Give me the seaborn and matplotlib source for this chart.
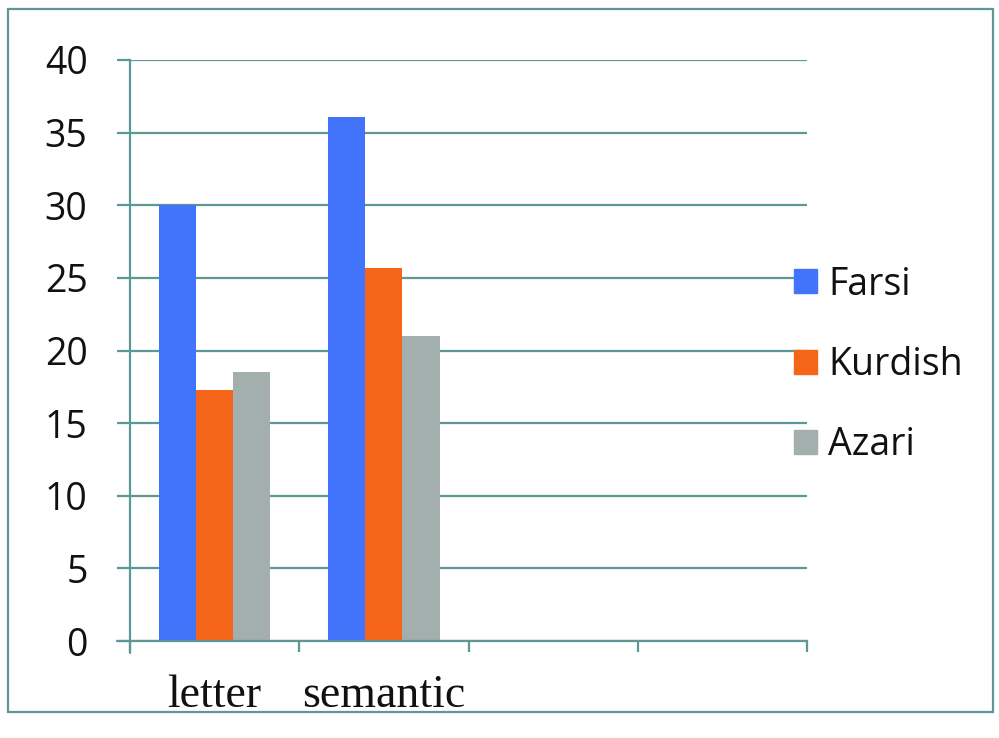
import matplotlib
matplotlib.use("Agg")
import matplotlib.pyplot as plt
import matplotlib.patches as mpatches
import pandas as pd
import seaborn as sns

# values
categories = ["letter", "semantic"]
languages = ["Farsi", "Kurdish", "Azari"]
farsi = [30.0, 36.1]
kurdish = [17.3, 25.7]
azari = [18.5, 21.0]
colors = ["#4174FB", "#F4651A", "#A2AFAD"]
grid_col = "#5E9896"

df = pd.DataFrame({
    "category": categories * 3,
    "language": [l for l in languages for _ in categories],
    "value": farsi + kurdish + azari,
})

sns.set_theme(style="white")
fig = plt.figure(figsize=(9.99, 7.38), dpi=100)
ax = fig.add_axes([0.130, 0.1314, 0.678, 0.7873])

sns.barplot(data=df, x="category", y="value", hue="language", order=categories,
            hue_order=languages, palette=colors, width=0.66, saturation=1,
            errorbar=None, linewidth=0, ax=ax)

ax.set_xlim(-0.5, 3.5)
ax.set_ylim(0, 40)
ax.set_yticks(range(0, 41, 5))
ax.yaxis.grid(True, color=grid_col, linewidth=1.6)
ax.set_axisbelow(True)
for s in ["top", "right"]:
    ax.spines[s].set_visible(False)
for s in ["left", "bottom"]:
    ax.spines[s].set_color(grid_col)
    ax.spines[s].set_linewidth(1.6)
# axis lines run a little past the corner, as in the original
ax.axhline(0, xmin=-0.019, xmax=0, color=grid_col, linewidth=1.6, clip_on=False)
ax.axvline(-0.5, ymin=-0.02, ymax=0, color=grid_col, linewidth=1.6, clip_on=False)

ax.set_xlabel("")
ax.set_ylabel("")
ax.set_xticks([0, 1])
ax.set_xticklabels(categories, fontsize=33, family="Liberation Serif", color="#111111")
ax.set_xticks([-0.5, 0.5, 1.5, 2.5, 3.5], minor=True)
ax.tick_params(axis="x", which="major", length=0, pad=24)
ax.tick_params(axis="x", which="minor", length=8, width=1.6, color=grid_col, direction="out", bottom=True)
ax.tick_params(axis="y", length=9.5, width=1.6, color=grid_col, direction="out", left=True, pad=21)
for t in ax.get_yticklabels():
    t.set_fontsize(27)
    t.set_family("Open Sans")
    t.set_color("#111111")

handles = [mpatches.Patch(color=c, label=l) for c, l in zip(colors, languages)]
ax.legend(handles=handles, loc="center left", bbox_to_anchor=(0.931, 0.475), frameon=False,
          prop={"family": "Open Sans", "size": 27}, handlelength=0.61, handleheight=0.61,
          handletextpad=0.3, labelspacing=1.13, labelcolor="#111111")

fig.patches.append(mpatches.Rectangle((0.008, 0.035), 0.986, 0.953, transform=fig.transFigure,
                                      fill=False, edgecolor=grid_col, linewidth=1.6))

fig.savefig("out.png", dpi=100)
